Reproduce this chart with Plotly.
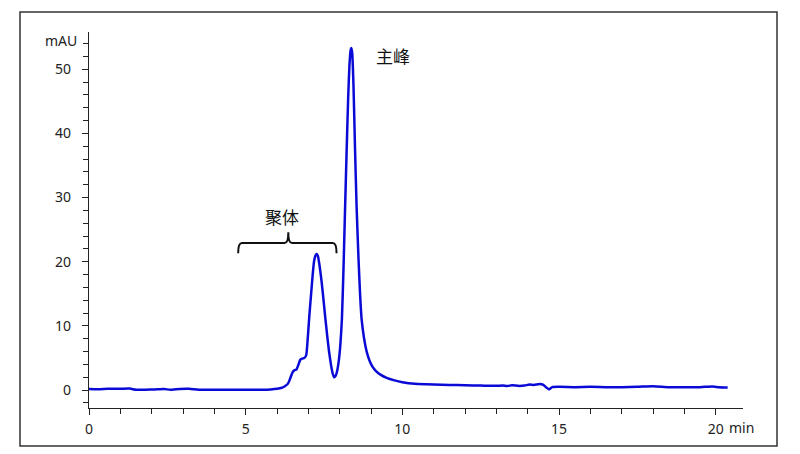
import plotly.graph_objects as go

# Chromatogram data (time in min, signal in mAU)
time_min = [0.0, 0.3, 0.6, 1.0, 1.3, 1.5, 1.8, 2.1, 2.4, 2.6, 2.9, 3.2, 3.5, 4.0, 4.5, 5.0, 5.5, 5.8,
            6.0, 6.15, 6.25, 6.35, 6.42, 6.5, 6.56, 6.62, 6.68, 6.74, 6.8, 6.87, 6.93, 6.98, 7.03, 7.08,
            7.13, 7.18, 7.23, 7.27, 7.31, 7.36, 7.42, 7.48, 7.54, 7.6, 7.66, 7.72, 7.77, 7.82, 7.87, 7.92,
            7.97, 8.02, 8.07, 8.12, 8.17, 8.22, 8.27, 8.31, 8.35, 8.37, 8.4, 8.44, 8.49, 8.54, 8.6, 8.65,
            8.7, 8.78, 8.86, 8.95, 9.05, 9.15, 9.3, 9.5, 9.75, 10.0, 10.2, 10.5, 11.0, 11.5, 12.0, 12.5,
            13.0, 13.2, 13.35, 13.5, 13.7, 13.9, 14.05, 14.2, 14.38, 14.5, 14.6, 14.68, 14.78, 15.0, 15.5,
            16.0, 16.5, 17.0, 17.5, 18.0, 18.5, 19.0, 19.5, 19.9, 20.1, 20.38]
signal_mau = [0.15, 0.12, 0.2, 0.2, 0.22, 0.05, 0.05, 0.1, 0.15, 0.05, 0.18, 0.2, 0.05, 0.05, 0.05, 0.05, 0.05, 0.1,
              0.2, 0.35, 0.6, 1.0, 1.8, 2.8, 3.1, 3.2, 3.9, 4.7, 4.9, 5.0, 5.4, 8.0, 11.5, 14.5,
              17.5, 20.0, 21.0, 21.2, 20.8, 19.3, 17.0, 14.2, 11.3, 8.5, 6.0, 4.0, 2.7, 2.0, 2.2, 3.0,
              4.5, 7.0, 11.0, 18.7, 28.0, 37.0, 45.5, 50.5, 53.0, 53.3, 52.5, 47.5, 37.5, 28.5, 20.5, 15.0,
              11.0, 8.0, 6.0, 4.6, 3.6, 3.0, 2.4, 1.9, 1.5, 1.2, 1.05, 0.95, 0.85, 0.8, 0.75, 0.7,
              0.65, 0.72, 0.62, 0.75, 0.65, 0.7, 0.85, 0.8, 0.95, 0.8, 0.35, 0.1, 0.45, 0.5, 0.45,
              0.5, 0.45, 0.45, 0.5, 0.6, 0.45, 0.45, 0.45, 0.55, 0.45, 0.4]

y_ticks = [0, 10, 20, 30, 40, 50]
x_ticks = [0, 5, 10, 15, 20]

# Annotation labels
peak_labels = ["聚体", "主峰"]
peak_label_x = [6.15, 9.69]
peak_label_y = [27.0, 52.2]

# Bracket over aggregate region (data coords)
br_x0, br_xm, br_x1 = 4.76, 6.36, 7.9
br_line, br_end, br_tip = 22.9, 21.3, 24.6

# page body margin offset (8px) compensation
OFF = 8
W, H = 800 - OFF, 454 - OFF
ML, MR, MT, MB = 89 - OFF, 57, 32 - OFF, 46
PW, PH = W - ML - MR, H - MT - MB

def px_x(p):
    return (p - OFF - ML) / PW

def px_y(p):
    return (H - MB - (p - OFF)) / PH

fig = go.Figure()
fig.add_trace(go.Scatter(x=time_min, y=signal_mau, mode="lines",
                         line=dict(color="#0a0ad6", width=2.5, shape="spline", smoothing=0.5),
                         hoverinfo="skip"))

tickfont = dict(family="Noto Sans", size=14, color="#222")
fig.update_layout(
    width=W, height=H, margin=dict(l=ML, r=MR, t=MT, b=MB),
    paper_bgcolor="white", plot_bgcolor="white", showlegend=False,
    xaxis=dict(range=[0, 20.87], showgrid=False, zeroline=False, showline=True,
               linecolor="#222", linewidth=1.2, ticks="outside", ticklen=6, tickwidth=1.2,
               tickcolor="#222", tickvals=x_ticks, tickfont=tickfont, ticklabelstandoff=2,
               minor=dict(dtick=1, ticks="outside", ticklen=5, tickcolor="#222", tickwidth=1.2)),
    yaxis=dict(range=[-2.8, 55.8], showgrid=False, zeroline=False, showline=True,
               linecolor="#222", linewidth=1.2, ticks="outside", ticklen=6, tickwidth=1.2,
               tickcolor="#222", tickvals=y_ticks, tickfont=tickfont, ticklabelstandoff=8,
               minor=dict(dtick=2, ticks="outside", ticklen=5, tickcolor="#222", tickwidth=1.2)),
)

# frame border
fig.add_shape(type="rect", xref="paper", yref="paper",
              x0=px_x(20), x1=px_x(777), y0=px_y(446), y1=px_y(12),
              line=dict(color="#333", width=1.5), layer="below")

# axis unit labels
fig.add_annotation(text="mAU", xref="paper", yref="paper", x=px_x(61), y=px_y(40),
                   showarrow=False, font=tickfont, xanchor="center", yanchor="middle")
fig.add_annotation(text="min", xref="paper", yref="paper", x=px_x(741), y=px_y(427),
                   showarrow=False, font=tickfont, xanchor="center", yanchor="middle")

for txt, x, y in zip(peak_labels, peak_label_x, peak_label_y):
    fig.add_annotation(text=txt, x=x, y=y, showarrow=False,
                       font=dict(family="Noto Sans CJK SC", size=17, color="#111"),
                       xanchor="center", yanchor="middle")

d = 0.12
path = (f"M {br_x0},{br_end} Q {br_x0},{br_line} {br_x0 + d},{br_line} "
        f"L {br_xm - d},{br_line} Q {br_xm},{br_line} {br_xm},{br_tip} "
        f"Q {br_xm},{br_line} {br_xm + d},{br_line} "
        f"L {br_x1 - d},{br_line} Q {br_x1},{br_line} {br_x1},{br_end}")
fig.add_shape(type="path", path=path, xref="x", yref="y", line=dict(color="#111", width=2))

fig.write_html("out.html")
